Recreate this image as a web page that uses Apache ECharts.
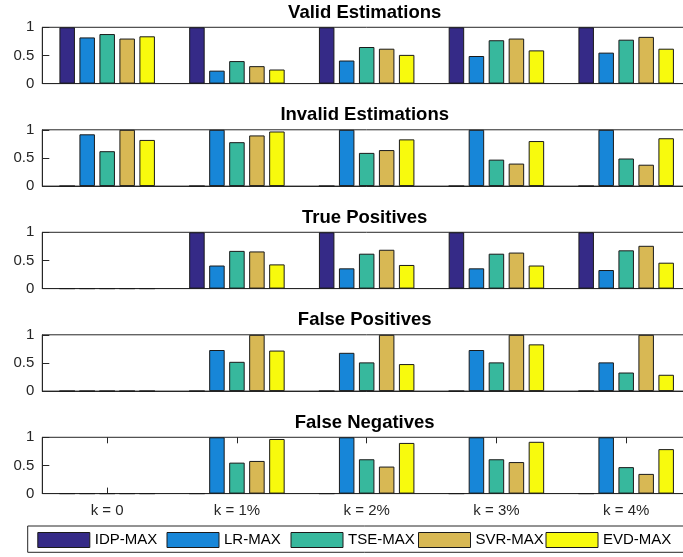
<!DOCTYPE html>
<html>
<head>
<meta charset="utf-8">
<script src="https://cdn.jsdelivr.net/npm/echarts@6/dist/echarts.min.js"></script>
<style>
  html, body { margin: 0; padding: 0; background: #fff; overflow: hidden; }
  #chart { width: 700px; height: 557px; }
</style>
</head>
<body>
<div id="chart"></div>
<script>
// categories and methods
var categories = ['k = 0', 'k = 1%', 'k = 2%', 'k = 3%', 'k = 4%']
var methods = ['IDP-MAX', 'LR-MAX', 'TSE-MAX', 'SVR-MAX', 'EVD-MAX']
var panelTitles = ['Valid Estimations', 'Invalid Estimations', 'True Positives', 'False Positives', 'False Negatives']
var yTicks = [0, 0.5, 1]

// one row per method (IDP, LR, TSE, SVR, EVD), one value per k
var validEst = [
  [1, 1, 1, 1, 1],
  [0.82, 0.23, 0.41, 0.49, 0.55],
  [0.88, 0.40, 0.65, 0.77, 0.78],
  [0.80, 0.31, 0.62, 0.80, 0.83],
  [0.84, 0.25, 0.51, 0.59, 0.62]
]
var invalidEst = [
  [0, 0, 0, 0, 0],
  [0.92, 1, 1, 1, 1],
  [0.62, 0.78, 0.59, 0.47, 0.49],
  [1, 0.90, 0.64, 0.40, 0.38],
  [0.82, 0.97, 0.83, 0.80, 0.85]
]
var truePos = [
  [0, 1, 1, 1, 1],
  [0, 0.41, 0.36, 0.36, 0.33],
  [0, 0.67, 0.62, 0.62, 0.68],
  [0, 0.66, 0.69, 0.64, 0.76],
  [0, 0.43, 0.42, 0.41, 0.46]
]
var falsePos = [
  [0, 0, 0, 0, 0],
  [0, 0.73, 0.68, 0.73, 0.51],
  [0, 0.52, 0.51, 0.51, 0.33],
  [0, 1, 1, 1, 1],
  [0, 0.72, 0.48, 0.83, 0.29]
]
var falseNeg = [
  [0, 0, 0, 0, 0],
  [0, 1, 1, 1, 1],
  [0, 0.55, 0.61, 0.61, 0.47],
  [0, 0.58, 0.48, 0.56, 0.35],
  [0, 0.97, 0.90, 0.92, 0.79]
]
var panels = [validEst, invalidEst, truePos, falsePos, falseNeg]

var colors = ['#352a87', '#1786d8', '#37b89d', '#d8b854', '#f8fa0d']
var axisColor = '#262626'
var font = 'Liberation Sans, Arial, Helvetica, sans-serif'

var gridLeft = 42.3
var gridWidth = 648.75
var gridHeight = 56.3
var gridTops = [27.3, 129.8, 232.3, 334.8, 437.3]

var grids = []
var xAxes = []
var yAxes = []
var series = []
var graphics = []

gridTops.forEach(function (top, p) {
  var last = p === gridTops.length - 1
  grids.push({
    left: gridLeft,
    top: top,
    width: gridWidth,
    height: gridHeight,
    show: true,
    borderColor: axisColor,
    borderWidth: 1,
    backgroundColor: '#fff'
  })
  xAxes.push({
    type: 'category',
    gridIndex: p,
    data: categories,
    axisLine: { show: true, lineStyle: { color: axisColor, width: 1 } },
    axisTick: { show: last, inside: true, length: 6, alignWithLabel: true, lineStyle: { color: axisColor } },
    axisLabel: { show: last, margin: 10, color: axisColor, fontSize: 15, fontFamily: font }
  })
  if (last) {
    xAxes.push({
      type: 'category',
      gridIndex: p,
      position: 'top',
      data: categories,
      axisLine: { show: false },
      axisTick: { show: true, inside: true, length: 6, alignWithLabel: true, lineStyle: { color: axisColor } },
      axisLabel: { show: false }
    })
  }
  yAxes.push({
    type: 'value',
    gridIndex: p,
    min: yTicks[0],
    max: yTicks[yTicks.length - 1],
    interval: 0.5,
    splitLine: { show: false },
    axisLine: { show: true, lineStyle: { color: axisColor, width: 1 } },
    axisTick: { show: true, inside: true, length: 7, lineStyle: { color: axisColor } },
    axisLabel: { margin: 8, color: axisColor, fontSize: 15, fontFamily: font }
  })
  graphics.push({
    type: 'text',
    x: gridLeft + gridWidth / 2 - 2,
    y: top - 14.4,
    style: {
      text: panelTitles[p],
      align: 'center',
      verticalAlign: 'middle',
      fill: '#000',
      font: 'bold 18.5px ' + font
    }
  })
})

var xIndexOf = [0, 1, 2, 3, 4]
panels.forEach(function (rows, p) {
  rows.forEach(function (vals, m) {
    series.push({
      type: 'bar',
      name: methods[m],
      xAxisIndex: xIndexOf[p],
      yAxisIndex: p,
      data: vals,
      barWidth: 15.5,
      barGap: '29%',
      itemStyle: { color: colors[m], borderColor: '#1a1a1a', borderWidth: 1 }
    })
  })
})

// legend box
graphics.push({
  type: 'rect',
  z: -1,
  silent: true,
  shape: { x: 27.7, y: 526, width: 700, height: 26.3 },
  style: { fill: '#fff', stroke: axisColor, lineWidth: 1 }
})

var legendLefts = [37.3, 166.5, 290.5, 418, 545.5]
var legends = methods.map(function (name, m) {
  return {
    data: [name],
    left: legendLefts[m],
    top: 532,
    padding: 0,
    itemWidth: 52,
    itemHeight: 15,
    icon: 'rect',
    itemStyle: { borderColor: '#1a1a1a', borderWidth: 1 },
    textStyle: { color: '#000', fontSize: 15, fontFamily: font },
    selectedMode: false
  }
})

var chart = echarts.init(document.getElementById('chart'), null, { renderer: 'canvas' })
chart.setOption({
  animation: false,
  backgroundColor: '#fff',
  grid: grids,
  xAxis: xAxes,
  yAxis: yAxes,
  legend: legends,
  graphic: graphics,
  series: series
})
</script>
</body>
</html>
